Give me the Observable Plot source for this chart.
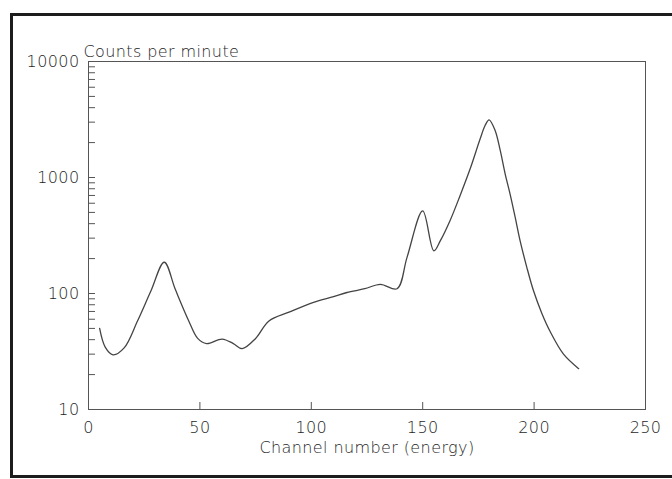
<!DOCTYPE html>
<html>
<head>
<meta charset="utf-8">
<script src="https://cdn.jsdelivr.net/npm/d3@7"></script>
<script src="https://cdn.jsdelivr.net/npm/@observablehq/plot@0.6"></script>
<style>
  html, body { margin: 0; padding: 0; background: #fff; overflow: hidden; }
  #wrap { position: relative; width: 672px; height: 479px; }
  #border { position: absolute; left: 10px; top: 13px; width: 700px; height: 465px;
            box-sizing: border-box; border: 3px solid #1c1c1c; pointer-events: none; }
</style>
</head>
<body>
<div id="wrap"><div id="border"></div></div>
<script>
// Channel numbers (energy) and counts per minute
const channels = [5, 7.5, 11, 16, 22, 28, 34, 39, 45, 49, 53, 60, 65, 69, 75, 81, 90, 101, 110, 116, 124, 131, 138.5, 143, 150, 155, 158, 162.3, 166.8, 171.3, 175.8, 178, 179.8, 182.5, 184.8, 187, 189.2, 191.5, 193.7, 196.7, 199.7, 203.4, 207.2, 213.2, 220];
const counts   = [50, 34.5, 29.6, 34, 58, 105, 186, 108, 58, 41, 37, 40.5, 37, 33.5, 41, 58, 69, 84, 94, 102, 110, 120, 110, 206, 515, 233, 287, 426, 700, 1188, 2157, 2805, 3140, 2543, 1710, 1076, 723, 455, 286, 169, 106, 68, 47, 30, 22.5];

const xTickValues = [0, 50, 100, 150, 200, 250];
const xInnerTicks = [50, 100, 150, 200];
const yMajorTicks = [10, 100, 1000, 10000];
const yMinorTicks = [];
for (const decade of [10, 100, 1000]) for (let k = 1; k <= 10; k++) yMinorTicks.push(decade * k);

const yTitle = "Counts per minute";
const xTitle = "Channel number (energy)";

const data = channels.map((c, i) => ({channel: c, cpm: counts[i]}));

const ink = "#1e1e1e";
const chart = Plot.plot({
  width: 672,
  height: 479,
  marginLeft: 88,
  marginRight: 27,
  marginTop: 61,
  marginBottom: 70,
  style: {fontFamily: "'DejaVu Sans', sans-serif", fontSize: "16px", fontWeight: 300, letterSpacing: "0.4px", color: ink, background: "transparent"},
  x: {domain: [0, 250], label: null},
  y: {type: "log", domain: [10, 10000], label: null},
  marks: [
    Plot.frame({stroke: "#555", strokeWidth: 1}),
    Plot.axisY({ticks: yMinorTicks, tickSize: -7, tickFormat: () => "", stroke: "#555", label: null}),
    Plot.axisY({ticks: yMajorTicks, tickSize: 0, tickPadding: 9, tickFormat: d => String(d), fontSize: 16, fill: ink, label: null}),
    Plot.axisX({ticks: xInnerTicks, tickSize: -7, tickFormat: () => "", stroke: "#555", label: null}),
    Plot.axisX({ticks: xTickValues, tickSize: 0, tickPadding: 12, tickFormat: d => String(d), fontSize: 16, fill: ink, label: null}),
    Plot.text([yTitle], {frameAnchor: "top-left", dx: -5, dy: -16, textAnchor: "start", fontSize: 16, fill: ink}),
    Plot.text([xTitle], {frameAnchor: "bottom", dy: 43, fontSize: 16, fill: ink}),
    Plot.line(data, {x: "channel", y: "cpm", curve: "catmull-rom", stroke: "#444", strokeWidth: 1.3})
  ]
});
document.getElementById("wrap").prepend(chart);
</script>
</body>
</html>
